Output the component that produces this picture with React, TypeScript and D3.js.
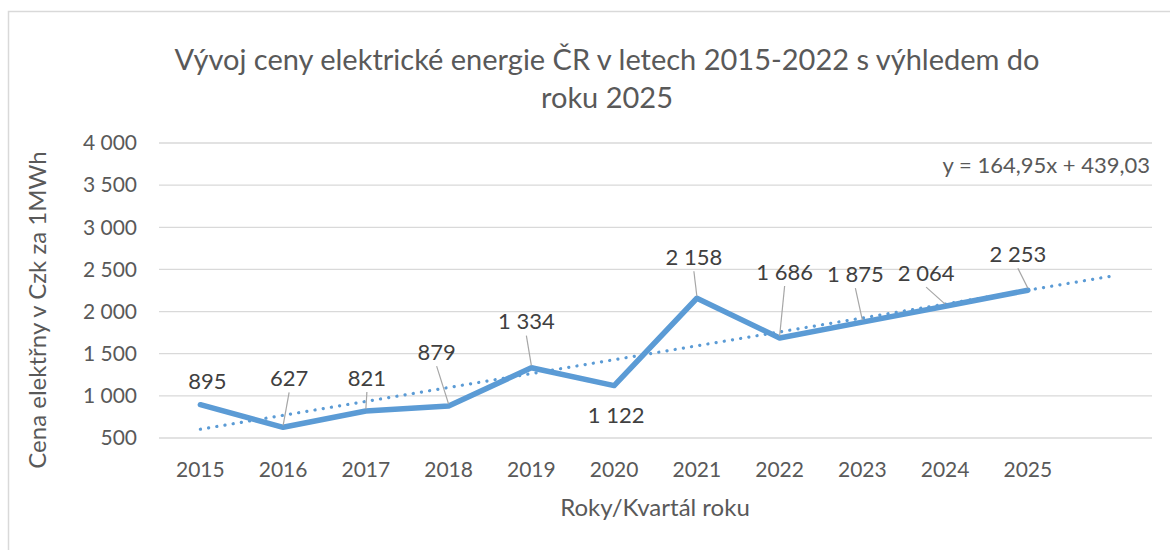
import { useRef, useEffect } from "react";
import * as d3 from "d3";

const years = ["2015", "2016", "2017", "2018", "2019", "2020", "2021", "2022", "2023", "2024", "2025"];
const prices = [895, 627, 821, 879, 1334, 1122, 2158, 1686, 1875, 2064, 2253];
const yTicks = [500, 1000, 1500, 2000, 2500, 3000, 3500, 4000];
// trend line from equation shown in chart, one period forecast
const trendSlope = 164.95;
const trendIntercept = 439.03;
const forecastPeriods = 1;

// label placement relative to point: [dx, dy, leader]
const labelOffsets: [number, number, boolean][] = [
  [7, -23, false],
  [6, -49, true],
  [1, -33, true],
  [-12, -54, true],
  [-5, -46, true],
  [2, 30, false],
  [-3, -41, true],
  [5, -66, true],
  [-7, -48, true],
  [-19, -33, true],
  [-10, -36, true],
];

const FONT = "Lato, 'Open Sans', sans-serif";
const BLUE = "#5b9bd5";

export default function App() {
  const svgRef = useRef<SVGSVGElement>(null);

  useEffect(() => {
    if (!svgRef.current) return;
    const svg = d3.select(svgRef.current);
    svg.selectAll("*").remove();

    const W = 1170;
    const H = 550;
    const margin = { top: 143, right: 18, bottom: 112, left: 159 };

    // frame
    svg
      .append("rect")
      .attr("x", 8.5)
      .attr("y", 11.5)
      .attr("width", W + 20)
      .attr("height", H + 20)
      .attr("fill", "white")
      .attr("stroke", "#d9d9d9")
      .attr("stroke-width", 1.5);

    const allCats = [...years, ...d3.range(forecastPeriods).map((i) => `f${i}`)];
    const x = d3
      .scaleBand()
      .domain(allCats)
      .range([margin.left, W - margin.right]);
    const y = d3
      .scaleLinear()
      .domain([500, 4000])
      .range([H - margin.bottom, margin.top]);
    const cx = (i: number) => x(allCats[i])! + x.bandwidth() / 2;

    // gridlines
    svg
      .append("g")
      .selectAll("line")
      .data(yTicks)
      .enter()
      .append("line")
      .attr("x1", margin.left)
      .attr("x2", W - margin.right)
      .attr("y1", (d) => y(d))
      .attr("y2", (d) => y(d))
      .attr("stroke", "#d9d9d9")
      .attr("stroke-width", 1.3);

    const fmt = (v: number) => d3.format(",")(v).replace(/,/g, " ");

    // y tick labels
    svg
      .append("g")
      .selectAll("text")
      .data(yTicks)
      .enter()
      .append("text")
      .attr("x", margin.left - 22)
      .attr("y", (d) => y(d))
      .attr("dy", "0.35em")
      .attr("text-anchor", "end")
      .style("font-family", FONT)
      .style("font-size", "21px")
      .style("fill", "#595959")
      .text((d) => fmt(d));

    // x tick labels
    svg
      .append("g")
      .selectAll("text")
      .data(years)
      .enter()
      .append("text")
      .attr("x", (_, i) => cx(i))
      .attr("y", H - margin.bottom + 32)
      .attr("dy", "0.35em")
      .attr("text-anchor", "middle")
      .style("font-family", FONT)
      .style("font-size", "21px")
      .style("fill", "#595959")
      .text((d) => d);

    // trend line
    const trendPts = allCats.map((_, i) => [cx(i), y(trendSlope * (i + 1) + trendIntercept)] as [number, number]);
    svg
      .append("path")
      .attr("d", d3.line()(trendPts))
      .attr("fill", "none")
      .attr("stroke", BLUE)
      .attr("stroke-width", 3.2)
      .attr("stroke-linecap", "round")
      .attr("stroke-dasharray", "0.1 8.2");

    // main line
    const line = d3
      .line<number>()
      .x((_, i) => cx(i))
      .y((d) => y(d));
    svg
      .append("path")
      .attr("d", line(prices))
      .attr("fill", "none")
      .attr("stroke", BLUE)
      .attr("stroke-width", 5.5)
      .attr("stroke-linejoin", "round")
      .attr("stroke-linecap", "round");

    // data labels with leaders
    const labels = svg.append("g");
    prices.forEach((v, i) => {
      const px = cx(i);
      const py = y(v);
      const [dx, dy, leader] = labelOffsets[i];
      const lx = px + dx;
      const ly = py + dy;
      if (leader) {
        labels
          .append("line")
          .attr("x1", lx)
          .attr("y1", ly + 14)
          .attr("x2", px)
          .attr("y2", py - 2)
          .attr("stroke", "#a6a6a6")
          .attr("stroke-width", 1.2);
      }
      labels
        .append("text")
        .attr("x", lx)
        .attr("y", ly)
        .attr("dy", "0.35em")
        .attr("text-anchor", "middle")
        .style("font-family", FONT)
        .style("font-size", "22px")
        .style("fill", "#404040")
        .text(fmt(v));
    });

    // trend equation
    svg
      .append("text")
      .attr("x", W - margin.right - 2)
      .attr("y", 165)
      .attr("dy", "0.35em")
      .attr("text-anchor", "end")
      .style("font-family", FONT)
      .style("font-size", "22px")
      .style("fill", "#595959")
      .text("y = 164,95x + 439,03");

    // title
    const title = svg
      .append("text")
      .attr("text-anchor", "middle")
      .style("font-family", FONT)
      .style("font-size", "29px")
      .style("fill", "#595959");
    title
      .append("tspan")
      .attr("x", 607)
      .attr("y", 70)
      .text("Vývoj ceny elektrické energie ČR v letech 2015-2022 s výhledem do");
    title.append("tspan").attr("x", 607).attr("y", 108).text("roku 2025");

    // axis titles
    svg
      .append("text")
      .attr("x", 655)
      .attr("y", 508)
      .attr("dy", "0.35em")
      .attr("text-anchor", "middle")
      .style("font-family", FONT)
      .style("font-size", "24px")
      .style("fill", "#595959")
      .text("Roky/Kvartál roku");

    svg
      .append("text")
      .attr("transform", "translate(38,310) rotate(-90)")
      .attr("dy", "0.35em")
      .attr("text-anchor", "middle")
      .style("font-family", FONT)
      .style("font-size", "24px")
      .style("fill", "#595959")
      .text("Cena elektřny v Czk za 1MWh");
  }, []);

  return (
    <div style={{ position: "fixed", left: 0, top: 0 }}>
      <svg ref={svgRef} width={1170} height={550} style={{ display: "block" }} />
    </div>
  );
}
